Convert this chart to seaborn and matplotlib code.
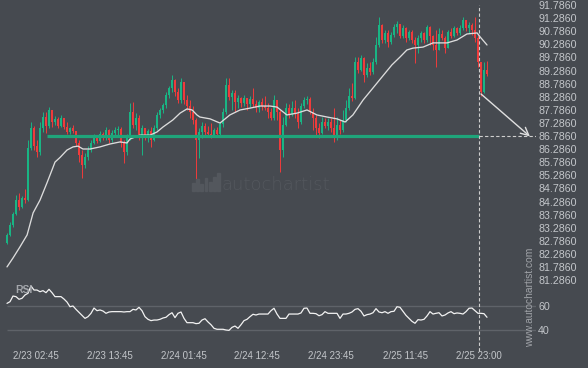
import numpy as np
import matplotlib.pyplot as plt
import seaborn as sns

# 30-minute candles (price axis on the right)
first_open = 82.70
close = [83.01, 83.39, 83.81, 84.34, 84.08, 84.42, 84.34, 86.33, 87.09, 86.40,
         86.18, 87.09, 87.51, 87.17, 87.78, 87.32, 87.44, 87.17, 87.47, 87.13,
         86.94, 87.09, 86.98, 86.52, 86.06, 85.68, 85.97, 86.25, 86.52, 86.75,
         86.60, 86.86, 86.71, 87.02, 86.63, 86.90, 87.02, 87.05, 86.52, 86.18,
         86.71, 87.70, 87.21, 87.47, 86.82, 87.09, 86.82, 86.98, 86.63, 87.09,
         87.59, 87.78, 87.97, 88.35, 88.62, 88.92, 88.47, 88.16, 88.85, 88.16,
         87.93, 87.70, 87.40, 86.63, 86.94, 87.17, 86.94, 86.86, 86.79, 87.02,
         86.86, 87.25, 87.70, 88.73, 88.27, 88.43, 88.08, 88.24, 88.05, 88.24,
         88.01, 88.20, 88.01, 87.85, 88.08, 87.93, 87.85, 87.70, 87.47, 88.16,
         87.70, 86.25, 87.21, 87.85, 87.63, 87.85, 87.63, 87.32, 87.93, 88.16,
         88.20, 87.70, 87.47, 87.09, 86.90, 87.32, 87.17, 87.32, 87.09, 86.79,
         87.21, 87.02, 87.40, 87.85, 88.31, 88.24, 89.61, 89.31, 89.76, 89.12,
         89.38, 89.23, 89.61, 90.26, 91.02, 90.45, 90.72, 90.37, 90.64, 90.95,
         91.06, 90.60, 90.91, 90.53, 90.76, 90.45, 90.26, 90.53, 90.72, 90.45,
         90.95, 90.60, 90.26, 90.07, 90.68, 90.53, 90.14, 90.76, 90.60, 90.91,
         90.72, 90.91, 91.21, 90.91, 91.02, 90.83, 90.53, 89.61, 88.47, 89.31,
         89.15]
high = [83.08, 83.50, 83.89, 84.55, 84.61, 84.50, 84.76, 86.63, 87.32, 87.17,
        86.63, 87.32, 87.70, 87.70, 87.89, 87.78, 87.55, 87.51, 87.59, 87.47,
        87.32, 87.13, 87.21, 86.90, 86.63, 86.25, 86.14, 86.40, 86.63, 86.86,
        86.82, 86.98, 86.94, 87.13, 87.05, 87.02, 87.13, 87.17, 87.13, 86.63,
        86.86, 88.05, 88.08, 87.66, 87.59, 87.21, 87.09, 87.05, 87.13, 87.21,
        87.70, 87.85, 88.05, 88.47, 88.69, 89.12, 88.96, 88.62, 89.00, 88.73,
        88.35, 88.16, 87.93, 87.47, 87.09, 87.32, 87.28, 87.17, 87.28, 87.09,
        87.13, 87.32, 87.85, 89.00, 89.00, 88.54, 88.54, 88.35, 88.27, 88.35,
        88.24, 88.31, 88.62, 88.16, 88.16, 88.24, 88.31, 88.05, 87.85, 88.35,
        88.16, 87.78, 87.51, 88.05, 88.01, 88.12, 88.16, 87.85, 88.05, 88.27,
        88.31, 88.27, 87.85, 87.59, 87.28, 87.51, 87.47, 87.47, 87.47, 87.85,
        87.51, 87.40, 87.78, 88.16, 88.62, 88.81, 89.80, 89.80, 89.88, 89.80,
        89.57, 89.61, 89.76, 90.57, 91.33, 91.06, 90.83, 90.83, 90.76, 91.06,
        91.18, 91.06, 91.02, 90.95, 90.83, 90.83, 90.57, 90.64, 90.79, 90.76,
        91.02, 90.99, 90.64, 90.83, 90.91, 90.83, 90.60, 90.83, 90.91, 90.99,
        90.95, 91.02, 91.33, 91.21, 91.14, 91.10, 91.33, 90.64, 89.50, 89.61,
        89.65]
low = [82.66, 82.97, 83.31, 83.77, 83.96, 84.04, 84.23, 84.31, 86.25, 86.25,
       85.97, 86.06, 86.94, 86.90, 87.09, 87.13, 87.21, 87.09, 87.13, 87.05,
       86.86, 86.86, 86.90, 86.40, 85.79, 85.18, 85.57, 85.87, 86.18, 86.47,
       86.52, 86.56, 86.63, 86.63, 86.52, 86.56, 86.75, 86.79, 86.37, 85.76,
       86.06, 86.63, 87.09, 87.02, 86.63, 86.06, 86.63, 86.56, 86.37, 86.60,
       87.02, 87.47, 87.66, 87.85, 88.24, 88.47, 88.31, 88.05, 88.05, 88.01,
       87.78, 87.47, 87.25, 84.99, 85.95, 86.71, 86.75, 86.79, 86.71, 86.75,
       86.75, 86.75, 87.13, 87.63, 88.16, 87.78, 87.70, 87.85, 87.89, 87.93,
       87.78, 87.89, 87.89, 87.70, 87.70, 87.78, 87.78, 87.47, 87.40, 87.40,
       87.40, 85.41, 85.97, 87.17, 87.47, 87.55, 87.47, 87.09, 87.25, 87.85,
       88.01, 87.63, 87.02, 86.75, 86.71, 86.86, 87.09, 87.02, 86.94, 86.56,
       86.63, 86.86, 86.94, 87.32, 87.78, 88.12, 88.20, 89.19, 89.27, 88.85,
       89.04, 89.12, 89.15, 89.53, 90.18, 90.34, 90.34, 90.18, 90.30, 90.57,
       90.72, 90.53, 90.53, 90.37, 90.45, 90.34, 89.57, 89.95, 90.37, 90.34,
       90.37, 90.26, 90.07, 89.42, 90.07, 90.45, 89.95, 90.18, 90.53, 90.57,
       90.64, 90.64, 90.83, 90.79, 90.72, 90.64, 90.37, 89.42, 88.31, 88.43,
       89.08]

# moving average, sampled along the white curve (bar index, price)
ma_bar = [0, 2, 4.3, 6.7, 8.7, 11, 13.3, 15, 16, 17.7, 20, 22, 23.7, 25.3, 27.7,
          31, 34.3, 37.7, 40, 41, 44.3, 47.7, 50, 52, 55.3, 57.7, 60, 61.7, 63.3,
          64.3, 67.7, 71, 74.3, 77.7, 81, 84.3, 87.7, 90, 93.3, 96.7, 100, 103.3,
          106.7, 110, 112.7, 115.3, 118.7, 122, 125, 128.3, 131, 133.3, 135.3,
          138.7, 142, 146.7, 150, 153.3, 156.7, 157.7, 160]
ma_val = [81.79, 82.13, 82.55, 83.01, 83.85, 84.34, 84.99, 85.49, 85.79, 85.97,
          86.25, 86.37, 86.40, 86.29, 86.29, 86.37, 86.48, 86.56, 86.52, 86.67,
          86.82, 86.82, 86.94, 87.13, 87.40, 87.66, 87.82, 87.78, 87.59, 87.51,
          87.44, 87.28, 87.59, 87.78, 87.85, 87.93, 87.93, 87.89, 87.59, 87.66,
          87.78, 87.59, 87.51, 87.44, 87.32, 87.59, 88.16, 88.62, 89.04, 89.50,
          89.80, 90.07, 90.14, 90.18, 90.34, 90.34, 90.45, 90.68, 90.72, 90.57,
          90.26]

rsi = [62.2, 63.6, 68.3, 67.8, 65.6, 66.4, 69.2, 70.6, 76.7, 73.3,
       73.3, 71.9, 72.8, 71.1, 73.9, 71.1, 67.8, 67.8, 67.8, 65.8,
       63.3, 59.4, 60.0, 57.2, 54.7, 52.2, 49.7, 51.1, 53.9, 58.3,
       56.1, 56.7, 55.8, 53.9, 55.0, 55.3, 55.3, 55.3, 55.3, 55.0,
       55.3, 55.3, 57.2, 56.7, 58.9, 56.1, 51.1, 48.9, 47.8, 48.3,
       48.3, 48.9, 50.0, 50.6, 52.8, 54.4, 50.3, 53.9, 55.0, 49.7,
       46.1, 46.1, 46.1, 45.3, 45.6, 48.3, 49.4, 46.7, 44.4, 41.4,
       40.6, 40.6, 40.6, 40.0, 39.7, 42.2, 43.3, 41.4, 44.4, 47.8,
       48.9, 51.1, 53.1, 52.5, 53.3, 53.3, 53.3, 53.3, 56.1, 58.1,
       53.3, 49.7, 49.7, 49.7, 53.3, 53.3, 53.3, 53.3, 54.2, 58.1,
       58.3, 53.9, 53.9, 53.6, 51.9, 52.8, 55.3, 53.9, 53.9, 53.9,
       53.9, 49.7, 53.3, 53.3, 53.9, 55.0, 57.2, 57.8, 55.6, 51.7,
       52.8, 53.3, 54.4, 57.8, 55.0, 54.4, 55.3, 53.9, 55.3, 55.6,
       59.4, 58.9, 55.6, 52.2, 49.7, 47.2, 45.6, 48.6, 48.3, 48.9,
       51.7, 55.3, 53.3, 53.9, 54.4, 51.7, 52.5, 54.2, 55.3, 53.6,
       54.2, 53.9, 53.3, 55.3, 58.1, 58.3, 56.1, 53.9, 53.9, 53.6,
       50.6]

# support level and the projected move
support_level = 86.77
support_from = 13.3
pattern_end = 157.4
forecast_from = (158, 88.39)
forecast_to_bar = 174.3

time_ticks = [9.7, 34.3, 59, 83.3, 108, 132.7, 157.4]
time_labels = ['2/23 02:45', '2/23 13:45', '2/24 01:45', '2/24 12:45',
               '2/24 23:45', '2/25 11:45', '2/25 23:00']
price_ticks = [81.286, 81.786, 82.286, 82.786, 83.286, 83.786, 84.286, 84.786,
               85.286, 85.786, 86.286, 86.786, 87.286, 87.786, 88.286, 88.786,
               89.286, 89.786, 90.286, 90.786, 91.286, 91.786]
rsi_ticks = [40, 60]

BG = '#464a50'
UP = '#19b584'
DOWN = '#f03b3b'
TXT = '#c3c6ca'

sns.set_theme(style='dark', rc={'axes.facecolor': BG, 'figure.facecolor': BG})
plt.rcParams['font.family'] = ['Liberation Sans', 'DejaVu Sans']

fig = plt.figure(figsize=(5.88, 3.68), dpi=100)
ax = fig.add_axes([0, 85 / 368, 536 / 588, 283 / 368])
ax_rsi = fig.add_axes([0, 23 / 368, 536 / 588, 62 / 368])
ax_rsi.set_facecolor('none')

xlim = (-7 / 3, 529 / 3)
bars = np.arange(len(close))
c = np.array(close)
o = np.concatenate([[first_open], c[:-1]])
h = np.maximum(np.array(high), np.maximum(o, c))
l = np.minimum(np.array(low), np.minimum(o, c))
cols = [UP if cc >= oo else DOWN for oo, cc in zip(o, c)]
body_lo = np.minimum(o, c)
body_h = np.maximum(np.abs(c - o), 0.02)

# watermark sits under the candles
wm = '#53575d'
for i, hh in enumerate([8, 12, 7, 13, 9, 14, 18]):
    fig.patches.append(plt.Rectangle(((192 + i * 4.2) / 588, (368 - 191) / 368),
                                     2.8 / 588, hh / 368, color=wm,
                                     transform=fig.transFigure, zorder=0))
fig.text(222 / 588, 1 - 185 / 368, 'autochartist', color=wm, fontsize=13,
         family='DejaVu Sans', fontweight='light', va='center', ha='left',
         zorder=0)
ax.set_facecolor('none')
fig.patch.set_facecolor(BG)

# candles
ax.vlines(bars, l, h, colors=cols, lw=0.7)
ax.bar(bars, body_h, bottom=body_lo, width=0.62, color=cols, linewidth=0)

# moving average
sns.lineplot(x=ma_bar, y=ma_val, ax=ax, color='#dcdcdc', lw=0.95,
             estimator=None, sort=False)

# support line, its extension and the forecast arrow
ax.hlines(support_level, support_from, pattern_end, color='#1fa57a', lw=2.3)
ax.hlines(support_level, pattern_end, xlim[1], color='#cfcfcf', lw=0.8,
          linestyles=(0, (3, 2)))
ax.axvline(pattern_end, ymin=0, ymax=1 - 5 / 283, color='#cfcfcf', lw=0.8,
           ls=(0, (3, 2)))
ax.annotate('', xy=(forecast_to_bar, support_level), xytext=forecast_from,
            arrowprops=dict(arrowstyle='->', color='#e0e0e0', lw=1.0,
                            mutation_scale=14, shrinkA=0, shrinkB=0))

ax.set_xlim(*xlim)
ax.set_ylim(91.977 - 283 / 26.2, 91.977)
ax.yaxis.tick_right()
ax.set_yticks(price_ticks)
ax.set_yticklabels([f'{p:.4f}' for p in price_ticks])
ax.set_xticks([])
ax.tick_params(axis='y', length=0, pad=1.5, labelsize=7.7, labelcolor=TXT)
for s in ax.spines.values():
    s.set_visible(False)

# RSI panel
for lvl in rsi_ticks:
    ax_rsi.hlines(lvl, 0, xlim[1], color='#5f6369', lw=1)
sns.lineplot(x=bars, y=rsi, ax=ax_rsi, color='#f2f2f2', lw=0.9,
             estimator=None, sort=False)
ax_rsi.axvline(pattern_end, ymin=-6 / 62, ymax=1, color='#cfcfcf', lw=0.8,
               ls=(0, (3, 2)), clip_on=False)
ax_rsi.set_xlim(*xlim)
ax_rsi.set_ylim(40 - 15 / 1.2, 60 + 23 / 1.2)
ax_rsi.yaxis.tick_right()
ax_rsi.set_yticks(rsi_ticks)
ax_rsi.set_xticks(time_ticks)
ax_rsi.set_xticklabels(time_labels)
ax_rsi.tick_params(axis='y', length=0, pad=1.5, labelsize=7.7, labelcolor=TXT)
ax_rsi.tick_params(axis='x', length=0, pad=4.5, labelsize=7, labelcolor=TXT)
ax_rsi.set_xlabel('')
ax_rsi.set_ylabel('')
for s in ax_rsi.spines.values():
    s.set_visible(False)

fig.text(15 / 588, 1 - 290 / 368, 'RSI', color='#a3a6ab', fontsize=7.5,
         fontweight='bold', va='center', ha='left')
fig.text(530 / 588, 1 - 297 / 368, 'www.autochartist.com', color='#a0a3a8',
         fontsize=7.4, rotation=90, va='center', ha='center')

fig.savefig('out.png', dpi=100, facecolor=BG)
